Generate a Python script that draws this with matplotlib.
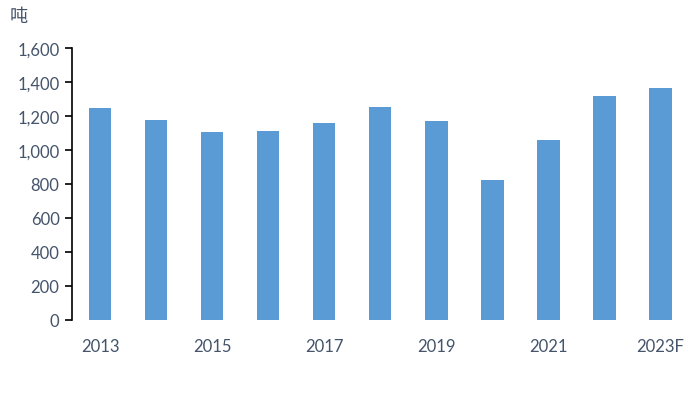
import matplotlib
matplotlib.use("Agg")
import matplotlib.pyplot as plt
from matplotlib.ticker import FuncFormatter

# data
years = ["2013", "2014", "2015", "2016", "2017", "2018", "2019", "2020", "2021", "2022", "2023F"]
values = [1248, 1178, 1105, 1110, 1160, 1250, 1172, 826, 1059, 1318, 1367]
y_ticks = [0, 200, 400, 600, 800, 1000, 1200, 1400, 1600]

plt.rcParams['font.family'] = ['Lato', 'Noto Sans CJK SC', 'DejaVu Sans']
label_color = "#44546A"
bar_color = "#5B9BD5"

fig = plt.figure(figsize=(6.99, 4.02), dpi=100)
ax = fig.add_axes([72 / 699, 1 - 321 / 402, (688.5 - 72) / 699, (321 - 49) / 402])

x = list(range(len(years)))
ax.bar(x, values, width=0.4, color=bar_color)

ax.set_xlim(-0.5, len(years) - 0.5)
ax.set_ylim(0, 1600)
ax.set_yticks(y_ticks)
ax.yaxis.set_major_formatter(FuncFormatter(lambda v, p: f"{int(v):,}"))
ax.set_xticks(x[::2])
ax.set_xticklabels(years[::2])

for s in ["top", "right", "bottom"]:
    ax.spines[s].set_visible(False)
ax.spines["left"].set_color("black")
ax.spines["left"].set_linewidth(1.2)
ax.tick_params(axis="y", direction="out", length=5, width=1.2, colors="black",
               labelcolor=label_color, labelsize=12, pad=4)
ax.tick_params(axis="x", length=0, labelcolor=label_color, labelsize=12, pad=13)

fig.text(10 / 699, 1 - 17 / 402, "吨", fontsize=13, color=label_color,
         family=['Noto Sans CJK SC', 'DejaVu Sans'], va="center", ha="left")

fig.savefig("out.png", dpi=100)
